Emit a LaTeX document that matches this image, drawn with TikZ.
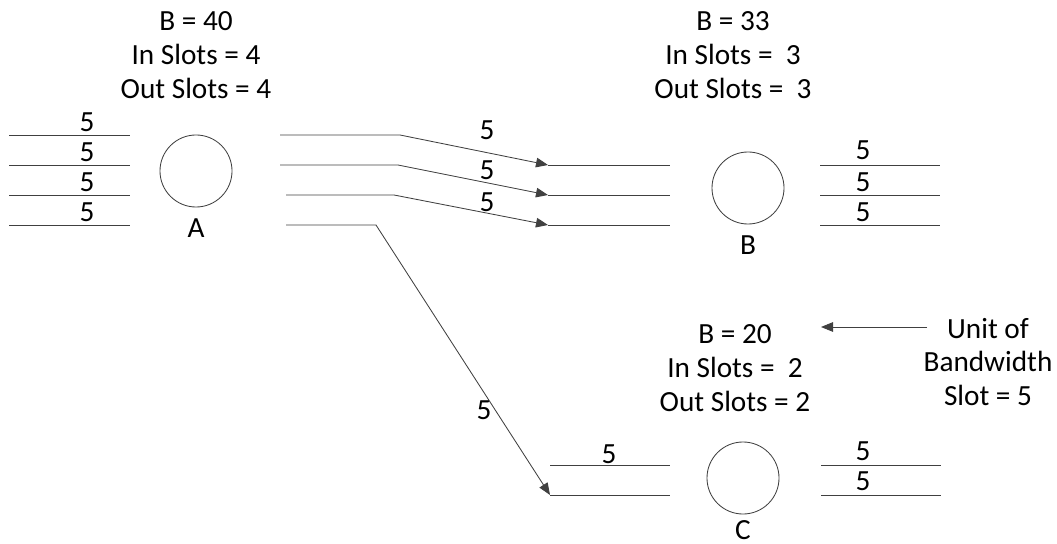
\documentclass[tikz,border=0pt]{standalone}
\usepackage{fontspec}
\setmainfont{Carlito}
\usetikzlibrary{arrows.meta, positioning}
\definecolor{wire}{HTML}{404040}
\tikzset{
    router/.style={circle, draw=wire, line width=0.6pt, minimum size=1.8cm, inner sep=0pt},
    info/.style={align=center, font=\fontsize{20.8}{24}\selectfont},
    nlbl/.style={font=\fontsize{20.8}{24}\selectfont, inner sep=0pt},
    lbl/.style={font=\fontsize{20.8}{24}\selectfont, inner sep=0pt},
    slot/.style={draw=wire, line width=0.6pt},
    flow/.style={slot, -{Triangle[length=3mm, width=2.4mm]}},
}

\begin{document}
\begin{tikzpicture}[x=0.025cm, y=-0.025cm]
    \useasboundingbox (0,0) rectangle (1057,544);

    % Routers
    \node[router] (A) at (196,171) {};
    \node[router] (B) at (748,188) {};
    \node[router] (C) at (743,478) {};
    \node[nlbl] (lA) at (196,228) {A};
    \node[nlbl] (lB) at (748,245) {B};
    \node[nlbl] (lC) at (743,530) {C};

    % Bandwidth and slot counts
    \node[info] (iA) at (196,55) {B = 40\\In Slots = 4\\Out Slots = 4};
    \node[info] (iB) at (733,55) {B = 33\\In Slots =~ 3\\Out Slots =~ 3};
    \node[info] (iC) at (735,368) {B = 20\\In Slots =~ 2\\Out Slots = 2};
    \node[info] (unit) at (988,362) {Unit of\\Bandwidth\\Slot = 5};
    \coordinate (unitS) at (927,327);
    \coordinate (unitE) at (821,327);
    \draw[flow] (unitS) -- (unitE);

    % A: incoming slots
    \foreach \y in {135,165,195,225} {
        \draw[slot] (9,\y) -- (130,\y);
        \node[lbl] at (87,\y-13) {5};
    }

    % B: incoming and outgoing slots
    \foreach \y in {165,195,225} {
        \draw[slot] (548,\y) -- (670,\y);
        \draw[slot] (820,\y) -- (940,\y);
    }
    \foreach \y in {150,182,212}
        \node[lbl] at (863,\y) {5};

    % C: incoming and outgoing slots
    \foreach \y in {465,495} {
        \draw[slot] (550,\y) -- (670,\y);
        \draw[slot] (821,\y) -- (941,\y);
    }
    \node[lbl] at (609,454) {5};
    \foreach \y in {451,481}
        \node[lbl] at (863,\y) {5};

    % Flows out of A
    \coordinate (ao1) at (280,135); \coordinate (ak1) at (400,135); \coordinate (bi1) at (548,165);
    \coordinate (ao2) at (280,165); \coordinate (ak2) at (398,165); \coordinate (bi2) at (548,195);
    \coordinate (ao3) at (286,195); \coordinate (ak3) at (394,195); \coordinate (bi3) at (548,225);
    \coordinate (ao4) at (286,225); \coordinate (ak4) at (376,225); \coordinate (ci2) at (550,495);
    \foreach \i/\t in {1/bi1,2/bi2,3/bi3,4/ci2}
        \draw[flow] (ao\i) -- (ak\i) -- (\t);
    \node[lbl] at (487,130) {5};
    \node[lbl] at (487,170) {5};
    \node[lbl] at (487,202) {5};
    \node[lbl] at (484,410) {5};

\end{tikzpicture}
\end{document}
